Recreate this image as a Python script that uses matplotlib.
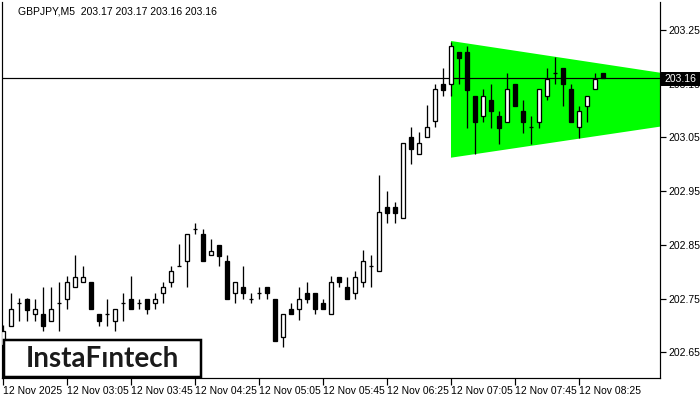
import matplotlib
matplotlib.use("Agg")
import matplotlib.pyplot as plt
from matplotlib.patches import Rectangle, Polygon

opens = [202.663, 202.699, 202.742, 202.750, 202.721, 202.721, 202.709, 202.742, 202.750, 202.771,
         202.780, 202.780, 202.721, 202.721, 202.709, 202.742, 202.750, 202.742, 202.750, 202.742,
         202.760, 202.780, 202.811, 202.819, 202.879, 202.870, 202.831, 202.850, 202.819, 202.760,
         202.771, 202.750, 202.761, 202.771, 202.750, 202.679, 202.730, 202.730, 202.761, 202.761,
         202.741, 202.721, 202.790, 202.771, 202.760, 202.780, 202.811, 202.801, 202.920, 202.920,
         202.899, 203.050, 203.020, 203.050, 203.080, 203.149, 203.149, 203.209, 203.209, 203.128,
         203.089, 203.119, 203.089, 203.079, 203.149, 203.099, 203.069, 203.079, 203.128, 203.169,
         203.179, 203.140, 203.069, 203.109, 203.140, 203.170]
highs = [202.701, 202.761, 202.751, 202.751, 202.750, 202.771, 202.771, 202.781, 202.791, 202.831,
         202.811, 202.780, 202.721, 202.750, 202.730, 202.761, 202.791, 202.750, 202.750, 202.760,
         202.780, 202.811, 202.851, 202.870, 202.891, 202.879, 202.860, 202.850, 202.831, 202.780,
         202.811, 202.760, 202.771, 202.771, 202.750, 202.721, 202.741, 202.771, 202.781, 202.761,
         202.750, 202.791, 202.790, 202.790, 202.801, 202.840, 202.831, 202.980, 202.950, 202.929,
         203.039, 203.069, 203.060, 203.110, 203.149, 203.179, 203.228, 203.209, 203.220, 203.128,
         203.140, 203.149, 203.099, 203.169, 203.149, 203.119, 203.089, 203.140, 203.179, 203.199,
         203.179, 203.149, 203.109, 203.128, 203.169, 203.170]
lows = [202.654, 202.699, 202.709, 202.709, 202.709, 202.690, 202.709, 202.690, 202.730, 202.771,
        202.780, 202.730, 202.699, 202.699, 202.690, 202.709, 202.730, 202.730, 202.721, 202.730,
        202.741, 202.771, 202.811, 202.771, 202.870, 202.819, 202.831, 202.811, 202.750, 202.741,
        202.750, 202.741, 202.750, 202.750, 202.670, 202.660, 202.721, 202.710, 202.741, 202.721,
        202.730, 202.721, 202.771, 202.750, 202.750, 202.771, 202.771, 202.801, 202.890, 202.890,
        202.899, 203.000, 203.020, 203.050, 203.069, 203.128, 203.128, 203.149, 203.068, 203.019,
        203.079, 203.068, 203.038, 203.079, 203.109, 203.059, 203.038, 203.068, 203.119, 203.149,
        203.109, 203.079, 203.049, 203.079, 203.140, 203.160]
closes = [202.690, 202.731, 202.742, 202.729, 202.730, 202.699, 202.730, 202.742, 202.780, 202.790,
          202.790, 202.730, 202.709, 202.721, 202.730, 202.742, 202.730, 202.742, 202.730, 202.750,
          202.771, 202.801, 202.811, 202.870, 202.879, 202.819, 202.839, 202.830, 202.750, 202.780,
          202.760, 202.750, 202.761, 202.760, 202.670, 202.721, 202.721, 202.750, 202.750, 202.730,
          202.730, 202.781, 202.780, 202.750, 202.790, 202.819, 202.811, 202.911, 202.910, 202.910,
          203.039, 203.029, 203.039, 203.069, 203.140, 203.139, 203.220, 203.198, 203.139, 203.079,
          203.128, 203.099, 203.068, 203.140, 203.109, 203.079, 203.069, 203.140, 203.158, 203.169,
          203.149, 203.079, 203.099, 203.128, 203.158, 203.160]

price_ticks = [203.25, 203.15, 203.05, 202.95, 202.85, 202.75, 202.65]
time_tick_idx = [0, 8, 16, 24, 32, 40, 48, 56, 64, 72]
time_labels = ["12 Nov 2025", "12 Nov 03:05", "12 Nov 03:45", "12 Nov 04:25", "12 Nov 05:05",
               "12 Nov 05:45", "12 Nov 06:25", "12 Nov 07:05", "12 Nov 07:45", "12 Nov 08:25"]

tri_x = [56, 82.125]
tri_upper = [203.2295, 203.1705]
tri_lower = [203.0122, 203.0700]

last_price = 203.16
title_text = "GBPJPY,M5  203.17 203.17 203.16 203.16"

FONT = "Liberation Sans"
W, H = 700, 400
fig = plt.figure(figsize=(7, 4), dpi=100)
ax = fig.add_axes([2 / W, 22 / H, 658 / W, 376 / H])
ax.set_xlim(-0.125, 82.125)
ax.set_ylim(202.6020, 203.3021)

px = 72 / 100  # one pixel in points

# green triangle
poly = Polygon([(tri_x[0], tri_upper[0]), (tri_x[1], tri_upper[1]),
                (tri_x[1], tri_lower[1]), (tri_x[0], tri_lower[0])],
               closed=True, facecolor="#00ff00", edgecolor="none", zorder=1)
ax.add_patch(poly)

ax.axhline(last_price, color="black", lw=1.2 * px, zorder=2)

bw = 0.6
for i, (o, h, l, c) in enumerate(zip(opens, highs, lows, closes)):
    ax.plot([i, i], [l, h], color="black", lw=1.3 * px, zorder=3, solid_capstyle="butt")
    if abs(c - o) < 0.002:
        ax.plot([i - bw / 2, i + bw / 2], [c, c], color="black", lw=1.3 * px, zorder=4,
                solid_capstyle="butt")
    else:
        fc = "white" if c > o else "black"
        ax.add_patch(Rectangle((i - bw / 2, min(o, c)), bw, abs(c - o), facecolor=fc,
                               edgecolor="black", lw=1.3 * px, zorder=4))

# axes styling
ax.spines["top"].set_visible(False)
for s in ["left", "right", "bottom"]:
    ax.spines[s].set_linewidth(1.2 * px)
    ax.spines[s].set_color("black")
ax.yaxis.tick_right()
ax.set_yticks(price_ticks)
ax.set_yticklabels([f"{p:.2f}" for p in price_ticks], fontfamily=FONT, fontsize=7.5)
ax.tick_params(axis="y", length=4, width=1.2 * px, pad=2, colors="black")
ax.set_xticks(time_tick_idx)
ax.set_xticklabels(time_labels, fontfamily=FONT, fontsize=7.5, ha="left")
ax.tick_params(axis="x", length=5, width=1.2 * px, pad=1, colors="black")

# current price label
fig.patches.append(Rectangle((661 / W, 1 - 86 / H), 39 / W, 14 / H, transform=fig.transFigure,
                             facecolor="black", edgecolor="none", zorder=5))
fig.text(664 / W, 1 - 79 / H, f"{last_price:.2f}", color="white", fontfamily=FONT,
         fontsize=7.5, va="center", ha="left", zorder=6)

# title
fig.text(18 / W, 1 - 11 / H, title_text, fontfamily=FONT, fontsize=7.5, va="center", ha="left")

# logo box
fig.patches.append(Rectangle((4 / W, 1 - 377 / H), 197 / W, 37 / H, transform=fig.transFigure,
                             facecolor="white", edgecolor="black", lw=2.5 * px, zorder=7))
fig.text(102 / W, 1 - 359 / H, "InstaFıntech", fontfamily="Lato", fontweight="bold",
         fontsize=20, va="center", ha="center", color="#1a1a1a", zorder=8)

fig.savefig("out.png", dpi=100)
